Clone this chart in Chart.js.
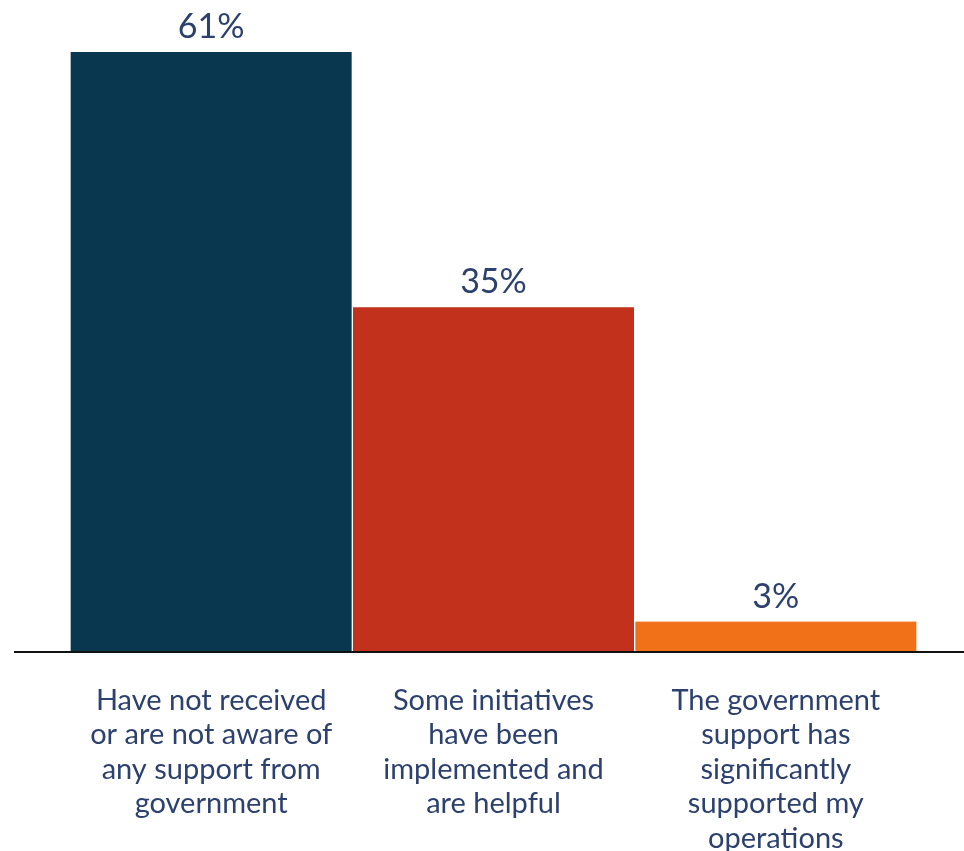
<!DOCTYPE html>
<html>
<head>
<meta charset="utf-8">
<script src="https://cdn.jsdelivr.net/npm/chart.js@4/dist/chart.umd.min.js"></script>
<style>
  html, body { margin: 0; padding: 0; background: #fff; }
  #wrap { width: 964px; height: 851px; }
</style>
</head>
<body>
<div id="wrap"><canvas id="chart"></canvas></div>
<script>
const categories = [
  ['Have not received', 'or are not aware of', 'any support from', 'government'],
  ['Some initiatives', 'have been', 'implemented and', 'are helpful'],
  ['The government', 'support has', 'significantly', 'supported my', 'operations']
]
const values = [61, 35, 3]
const barColors = ['#08374f', '#c1311b', '#f07118']

const textColor = '#2d416f'
const fontFamily = 'Lato, "Open Sans", sans-serif'

// value labels above bars
const valueLabels = {
  id: 'valueLabels',
  afterDatasetsDraw(chart) {
    const ctx = chart.ctx
    const meta = chart.getDatasetMeta(0)
    ctx.save()
    ctx.fillStyle = textColor
    ctx.font = '34px ' + fontFamily
    ctx.textAlign = 'center'
    ctx.textBaseline = 'middle'
    meta.data.forEach((bar, i) => {
      ctx.fillText(values[i] + '%', bar.x, bar.y - 25)
    })
    ctx.restore()
  },
}

// baseline running across the whole width at zero
const baseLine = {
  id: 'baseLine',
  afterDatasetsDraw(chart) {
    const ctx = chart.ctx
    const y = chart.scales.y.getPixelForValue(0)
    ctx.save()
    ctx.strokeStyle = '#111'
    ctx.lineWidth = 2
    ctx.beginPath()
    ctx.moveTo(14, y + 1)
    ctx.lineTo(chart.width, y + 1)
    ctx.stroke()
    ctx.restore()
  },
}

new Chart(document.getElementById('chart'), {
  type: 'bar',
  data: {
    labels: categories,
    datasets: [
      {
        data: values,
        backgroundColor: barColors,
        borderColor: '#ffffff',
        borderWidth: { left: 1, right: 1, top: 0, bottom: 0 },
        barPercentage: 1,
        categoryPercentage: 1,
      },
    ],
  },
  options: {
    responsive: true,
    maintainAspectRatio: false,
    animation: false,
    layout: { padding: { left: 70, right: 47, top: 52, bottom: 0 } },
    plugins: {
      legend: { display: false },
      tooltip: { enabled: false },
    },
    scales: {
      x: {
        grid: { display: false },
        border: { display: false },
        ticks: {
          color: textColor,
          font: { family: fontFamily, size: 29, lineHeight: 1.19 },
          padding: 24,
          maxRotation: 0,
          autoSkip: false,
        },
        afterFit(scale) {
          scale.height = 200
        },
      },
      y: {
        display: false,
        min: 0,
        max: 61,
      },
    },
  },
  plugins: [valueLabels, baseLine],
})
</script>
</body>
</html>
